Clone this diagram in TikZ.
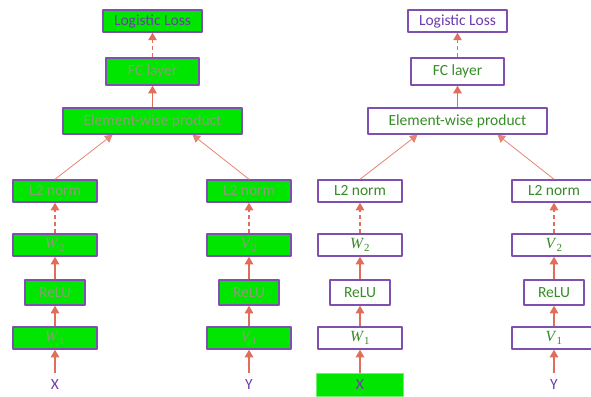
\documentclass[tikz,border=0pt]{standalone}
\usepackage{fontspec}
\setmainfont{Carlito}
\newfontfamily\tnr{Liberation Serif}
\usetikzlibrary{arrows.meta}
\definecolor{boxgreen}{RGB}{0,230,0}
\definecolor{boxpurple}{RGB}{128,80,176}
\definecolor{txtgrey}{RGB}{135,160,115}
\definecolor{txtgreen}{RGB}{55,140,40}
\definecolor{txtpurple}{RGB}{110,60,170}
\definecolor{arrowred}{RGB}{225,110,90}
\definecolor{edgegreen}{RGB}{110,240,110}
\newcommand{\wsub}[2]{{\tnr\itshape #1\/}{\tnr\textsubscript{#2}}}
\begin{document}
\begin{tikzpicture}[x=1pt,y=-1pt,line join=round,>={Triangle[length=7.5pt,width=8.5pt]},font=\fontsize{15.5}{18}\selectfont]
	\tikzset{
		box/.style={draw=boxpurple,line width=1.5pt,inner sep=0pt,minimum height=22pt,minimum width=84pt},
		boxa/.style={box,fill=boxgreen,text=txtgrey},
		boxb/.style={box,fill=white,text=txtgreen},
		input/.style={inner sep=0pt,minimum height=23pt,minimum width=87pt,text=txtpurple},
		xina/.style={input},
		xinb/.style={input,fill=boxgreen,draw=edgegreen,line width=1pt},
		yina/.style={input},
		yinb/.style={input},
		link/.style={->,arrowred,line width=1.2pt},
		dlink/.style={link,dash pattern=on 4pt off 3pt},
		slant/.style={->,arrowred!85,line width=0.8pt}
	}
	\useasboundingbox (0,0) rectangle (591,396);
	\foreach \p/\dx in {a/0,b/305}{
		\begin{scope}[xshift=\dx pt]
			% top of the network
			\node[box\p,text=txtpurple,minimum width=99pt] (loss\p) at (152.5,21) {Logistic Loss};
			\node[box\p,minimum width=93pt,minimum height=27pt] (fc\p) at (152.5,71.5) {FC layer};
			\node[box\p,minimum width=179pt,minimum height=26pt] (prod\p) at (152.5,121) {Element-wise product};
			% X branch
			\node[box\p] (lx\p) at (55,191) {L2 norm};
			\node[box\p] (wtwo\p) at (55,245) {\wsub{W}{2}};
			\node[box\p,minimum width=60pt,minimum height=25pt] (rx\p) at (55,292.5) {ReLU};
			\node[box\p] (wone\p) at (55,338) {\wsub{W}{1}};
			\node[xin\p] (x\p) at (55,384.5) {X};
			% Y branch
			\node[box\p] (ly\p) at (249,191) {L2 norm};
			\node[box\p] (vtwo\p) at (249,245) {\wsub{V}{2}};
			\node[box\p,minimum width=60pt,minimum height=25pt] (ry\p) at (249,292.5) {ReLU};
			\node[box\p] (vone\p) at (249,338) {\wsub{V}{1}};
			\node[yin\p] (y\p) at (249,384.5) {Y};
		\end{scope}
		\draw[link] (x\p) -- (wone\p);
		\draw[link] (wone\p) -- (rx\p);
		\draw[link] (rx\p) -- (wtwo\p);
		\draw[dlink] (wtwo\p) -- (lx\p);
		\draw[link] (y\p) -- (vone\p);
		\draw[link] (vone\p) -- (ry\p);
		\draw[link] (ry\p) -- (vtwo\p);
		\draw[dlink] (vtwo\p) -- (ly\p);
		\draw[slant] (lx\p.north) -- ([xshift=-40pt]prod\p.south);
		\draw[slant] (ly\p.north) -- ([xshift=40pt]prod\p.south);
		\draw[link] (prod\p) -- (fc\p);
		\draw[dlink] (fc\p) -- (loss\p);
	}
\end{tikzpicture}
\end{document}
